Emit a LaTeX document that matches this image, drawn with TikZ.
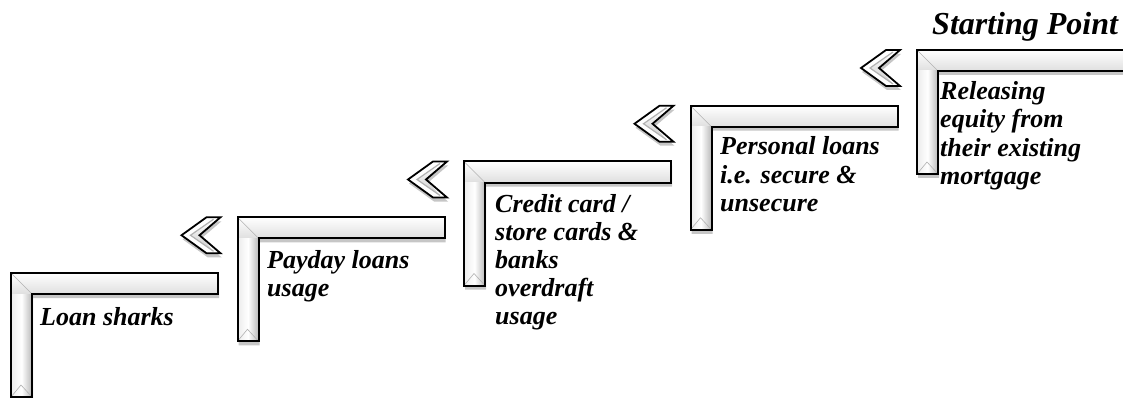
\documentclass[tikz,border=0pt]{standalone}
\usepackage{fontspec}
\setmainfont{Liberation Serif}
\usetikzlibrary{shadows}

\begin{document}
\begin{tikzpicture}[x=1pt,y=-1pt,
  stepshadow/.style={fill=white,drop shadow={opacity=0.45,shadow xshift=1pt,shadow yshift=-4pt}},
  stepline/.style={draw=black,line width=2pt,line join=miter},
  ridge/.style={draw=gray!60,line width=1.2pt},
  lbl/.style={anchor=base west,inner sep=0pt,align=left,
    font=\fontsize{26}{28}\selectfont\bfseries\itshape}]
\useasboundingbox (0,0) rectangle (1123,398);

% the five steps, bottom left to top right
\foreach \i in {0,...,4} {
\pgfmathsetmacro{\xo}{11+226.5*\i}
\pgfmathsetmacro{\yo}{273-55.75*\i}
\path[stepshadow] (\xo,\yo) -- ++(207,0) -- ++(0,21) -- ++(-186,0) -- ++(0,103) -- ++(-21,0) -- cycle;
\shade[top color=white,bottom color=gray!25] (\xo,\yo) rectangle (\xo+207,\yo+21);
\shade[left color=gray!15,right color=gray!55,middle color=white] (\xo,\yo+21) rectangle (\xo+21,\yo+124);
\draw[ridge,line width=0.6pt] (\xo,\yo) -- (\xo+21,\yo+21);
\draw[ridge,line width=0.6pt] (\xo,\yo+124) -- (\xo+10,\yo+112) -- (\xo+21,\yo+124);
\draw[stepline] (\xo,\yo) -- ++(207,0) -- ++(0,21) -- ++(-186,0) -- ++(0,103) -- ++(-21,0) -- cycle;
}

% chevrons between the steps
\foreach \i in {1,...,4} {
\pgfmathsetmacro{\tx}{11+226.5*\i-56}
\pgfmathsetmacro{\ty}{273-55.75*\i+18}
\path[stepshadow] (\tx,\ty) -- ++(25,-18) -- ++(14,0) -- ++(-21,18) -- ++(21,18) -- ++(-14,0) -- cycle;
\shade[top color=white,bottom color=gray!40] (\tx+9,\ty) -- ++(23,-16) -- ++(-14,16) -- ++(14,16) -- cycle;
\draw[ridge] (\tx+32,\ty-16) -- (\tx+9,\ty) -- (\tx+32,\ty+16);
\draw[stepline,line width=1.8pt] (\tx,\ty) -- ++(25,-18) -- ++(14,0) -- ++(-21,18) -- ++(21,18) -- ++(-14,0) -- cycle;
}

% labels (base = last line)
\node[lbl] (loan) at (40,325) {Loan sharks};
\node[lbl] (payday) at (267,296) {Payday loans\\usage};
\node[lbl] (credit) at (495,324) {Credit card /\\store cards \&\\banks\\overdraft\\usage};
\node[lbl] (personal) at (720,211) {Personal loans\\i.e. secure \&\\unsecure};
\node[lbl] (equity) at (940,184) {Releasing\\equity from\\their existing\\mortgage};
\node[lbl,font=\fontsize{32}{34}\selectfont\bfseries\itshape] (start) at (932,35) {Starting Point};

\end{tikzpicture}
\end{document}
